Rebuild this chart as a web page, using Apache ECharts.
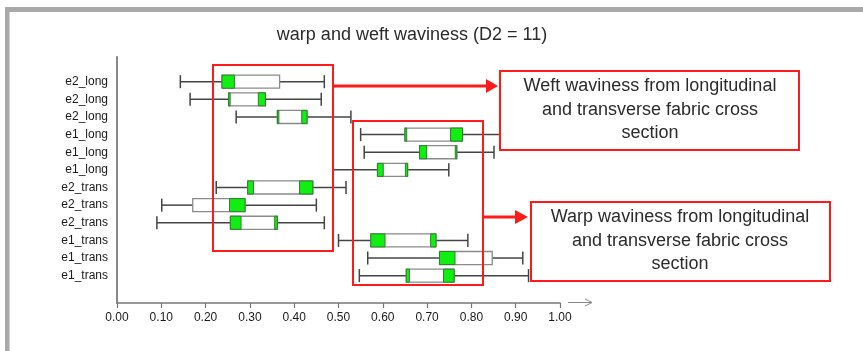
<!DOCTYPE html>
<html>
<head>
<meta charset="utf-8">
<style>
  html, body { margin: 0; padding: 0; background: #fff; }
  #chart { width: 863px; height: 351px; }
</style>
<script src="https://cdn.jsdelivr.net/npm/echarts@6/dist/echarts.min.js"></script>
</head>
<body>
<div id="chart"></div>
<script>
// rows, top to bottom
var categories = ['e2_long', 'e2_long', 'e2_long', 'e1_long', 'e1_long', 'e1_long',
  'e2_trans', 'e2_trans', 'e2_trans', 'e1_trans', 'e1_trans', 'e1_trans']

var whiskerLow = [0.143, 0.165, 0.269, 0.550, 0.558, 0.488, 0.224, 0.101, 0.090, 0.500, 0.566, 0.547]
var boxLow = [0.237, 0.252, 0.362, 0.650, 0.683, 0.588, 0.295, 0.171, 0.256, 0.573, 0.728, 0.653]
var boxHigh = [0.367, 0.335, 0.429, 0.780, 0.767, 0.656, 0.442, 0.289, 0.362, 0.720, 0.847, 0.761]
var whiskerHigh = [0.468, 0.461, 0.528, 0.920, 0.851, 0.749, 0.517, 0.450, 0.468, 0.792, 0.916, 0.929]

// green part from boxLow up to leftGreen, and from rightGreen up to boxHigh (null = none)
var leftGreen = [0.265, 0.255, 0.364, 0.654, 0.699, 0.601, 0.308, null, 0.280, 0.605, 0.763, 0.660]
var rightGreen = [null, 0.319, 0.417, 0.753, 0.764, 0.651, 0.412, 0.254, 0.356, 0.708, null, 0.737]

var xTicks = [0, 0.1, 0.2, 0.3, 0.4, 0.5, 0.6, 0.7, 0.8, 0.9, 1.0]

var title = 'warp and weft waviness (D2 = 11)'
var weftNote = 'Weft waviness from longitudinal\nand transverse fabric cross\nsection'
var warpNote = 'Warp waviness from longitudinal\nand transverse fabric cross\nsection'

var rows = categories.map(function (c, i) {
  return [i, whiskerLow[i], boxLow[i], boxHigh[i], whiskerHigh[i],
    leftGreen[i] == null ? NaN : leftGreen[i],
    rightGreen[i] == null ? NaN : rightGreen[i]]
})

var chart = echarts.init(document.getElementById('chart'))

function renderBox(params, api) {
  var row = api.value(0)
  var band = api.size([0, 1])[1]
  var h = band * 0.74
  var pLo = api.coord([api.value(1), row])
  var pQ1 = api.coord([api.value(2), row])
  var pQ3 = api.coord([api.value(3), row])
  var pHi = api.coord([api.value(4), row])
  var y = pLo[1]
  var lineStyle = { stroke: '#444', lineWidth: 1.5 }
  var children = [
    { type: 'line', shape: { x1: pLo[0], y1: y, x2: pQ1[0], y2: y }, style: lineStyle },
    { type: 'line', shape: { x1: pQ3[0], y1: y, x2: pHi[0], y2: y }, style: lineStyle },
    { type: 'line', shape: { x1: pLo[0], y1: y - h / 2, x2: pLo[0], y2: y + h / 2 }, style: lineStyle },
    { type: 'line', shape: { x1: pHi[0], y1: y - h / 2, x2: pHi[0], y2: y + h / 2 }, style: lineStyle },
    {
      type: 'rect',
      shape: { x: pQ1[0], y: y - h / 2, width: pQ3[0] - pQ1[0], height: h },
      style: { fill: '#fff', stroke: '#8a8a8a', lineWidth: 1.3 }
    }
  ]
  var gl = api.value(5)
  var gr = api.value(6)
  var greenStyle = { fill: '#11ee11', stroke: '#2f7f2f', lineWidth: 1 }
  if (!isNaN(gl)) {
    var pGl = api.coord([gl, row])
    children.push({
      type: 'rect',
      shape: { x: pQ1[0], y: y - h / 2, width: Math.max(pGl[0] - pQ1[0], 1.5), height: h },
      style: greenStyle
    })
  }
  if (!isNaN(gr)) {
    var pGr = api.coord([gr, row])
    var w = Math.max(pQ3[0] - pGr[0], 1.5)
    children.push({
      type: 'rect',
      shape: { x: pQ3[0] - w, y: y - h / 2, width: w, height: h },
      style: greenStyle
    })
  }
  return { type: 'group', children: children }
}

var red = '#ff1a1a'

chart.setOption({
  animation: false,
  backgroundColor: '#fff',
  title: {
    text: title,
    left: 407,
    top: 21,
    textAlign: 'center',
    textStyle: {
      fontFamily: 'Liberation Sans',
      fontSize: 18,
      fontWeight: 'normal',
      color: '#2b2b2b'
    }
  },
  grid: {
    left: 117,
    right: 303,
    top: 57,
    bottom: 48
  },
  xAxis: {
    type: 'value',
    position: 'bottom',
    min: 0,
    max: 1,
    interval: 0.1,
    axisLine: { onZero: false, lineStyle: { color: '#777', width: 1.5 } },
    axisTick: { show: true, length: 5, lineStyle: { color: '#777', width: 1.2 } },
    axisLabel: {
      margin: 9,
      fontFamily: 'Liberation Sans',
      fontSize: 12,
      color: '#1a1a1a',
      customValues: xTicks,
      formatter: function (v) { return v.toFixed(2) }
    },
    splitLine: { show: false }
  },
  yAxis: {
    type: 'value',
    inverse: true,
    min: -1.4,
    max: 12.55,
    axisLine: { show: true, onZero: false, lineStyle: { color: '#888', width: 2 } },
    axisTick: { show: false },
    axisLabel: {
      margin: 9,
      fontFamily: 'Liberation Sans',
      fontSize: 12,
      color: '#1a1a1a',
      customValues: categories.map(function (c, i) { return i }),
      formatter: function (v) { return categories[v] }
    },
    splitLine: { show: false }
  },
  series: [
    {
      type: 'custom',
      renderItem: renderBox,
      encode: { x: [1, 2, 3, 4], y: 0 },
      data: rows,
      z: 2
    }
  ],
  graphic: [
    // grey frame
    { type: 'rect', z: 100, shape: { x: 5, y: 7, width: 858, height: 5 }, style: { fill: '#a9a9a9' } },
    { type: 'rect', z: 100, shape: { x: 5, y: 7, width: 4.5, height: 344 }, style: { fill: '#a9a9a9' } },
    // x axis arrow
    { type: 'line', z: 100, shape: { x1: 568, y1: 302.5, x2: 592, y2: 302.5 }, style: { stroke: '#888', lineWidth: 1 } },
    { type: 'polyline', z: 100, shape: { points: [[585, 299], [592, 302.5], [585, 306]] }, style: { stroke: '#888', lineWidth: 1, fill: null } },
    // weft frame + arrow + note
    { type: 'rect', z: 100, shape: { x: 213, y: 65, width: 120, height: 186 }, style: { fill: null, stroke: red, lineWidth: 2 } },
    { type: 'line', z: 100, shape: { x1: 333, y1: 86, x2: 488, y2: 86 }, style: { stroke: red, lineWidth: 3 } },
    { type: 'polygon', z: 100, shape: { points: [[486, 79], [498, 86], [486, 93]] }, style: { fill: red } },
    { type: 'rect', z: 100, shape: { x: 500, y: 71, width: 299, height: 79 }, style: { fill: '#fff', stroke: red, lineWidth: 2 } },
    {
      type: 'text', z: 101, x: 650, y: 110,
      style: {
        text: weftNote, align: 'center', verticalAlign: 'middle',
        font: '18px "Liberation Sans"', lineHeight: 23.5, fill: '#2b2b2b'
      }
    },
    // warp frame + arrow + note
    { type: 'rect', z: 100, shape: { x: 353, y: 121, width: 130, height: 164 }, style: { fill: null, stroke: red, lineWidth: 2 } },
    { type: 'line', z: 100, shape: { x1: 483, y1: 217, x2: 517, y2: 217 }, style: { stroke: red, lineWidth: 3 } },
    { type: 'polygon', z: 100, shape: { points: [[515, 210], [528, 217], [515, 224]] }, style: { fill: red } },
    { type: 'rect', z: 100, shape: { x: 531, y: 202, width: 299, height: 79 }, style: { fill: '#fff', stroke: red, lineWidth: 2 } },
    {
      type: 'text', z: 101, x: 680, y: 241,
      style: {
        text: warpNote, align: 'center', verticalAlign: 'middle',
        font: '18px "Liberation Sans"', lineHeight: 23.5, fill: '#2b2b2b'
      }
    }
  ]
})
</script>
</body>
</html>
